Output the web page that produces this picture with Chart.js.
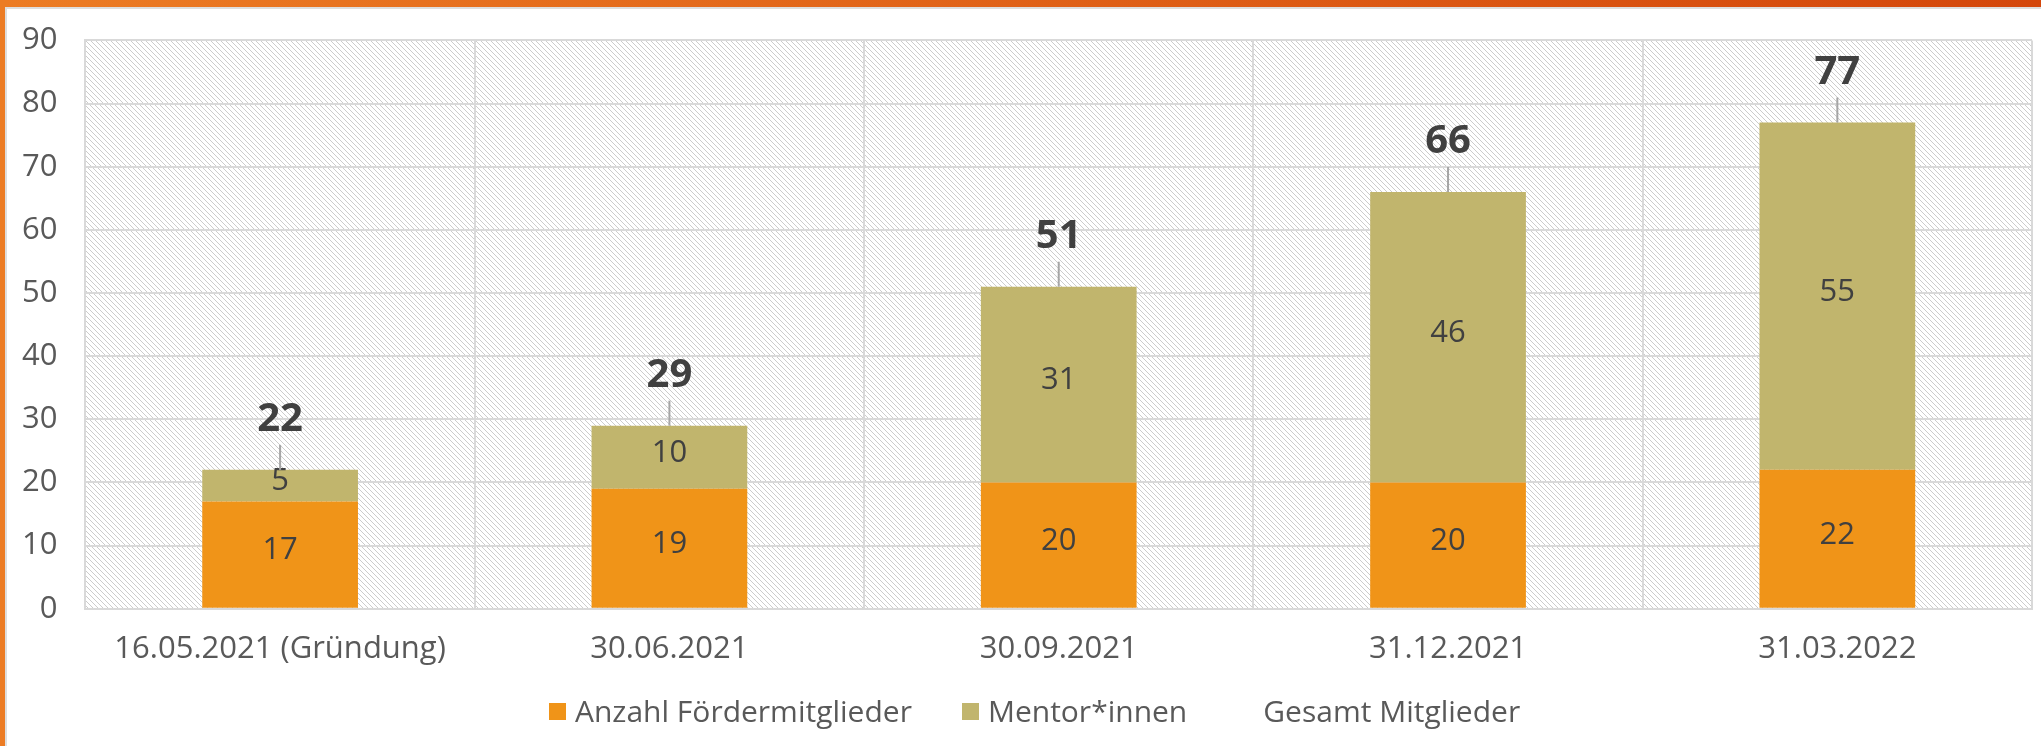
<!DOCTYPE html>
<html>
<head>
<meta charset="utf-8">
<script src="https://cdn.jsdelivr.net/npm/chart.js@4/dist/chart.umd.min.js"></script>
<style>
    html, body { margin: 0; padding: 0; background: #fff; }
    #wrap { position: relative; width: 2041px; height: 746px; overflow: hidden; }
    #membersChart { position: absolute; left: 0; top: 0; }
    .frame { position: absolute; }
    #frameTop { left: 0; top: 0; width: 2041px; height: 7px; background: linear-gradient(90deg, #ec7c24, #d4470b); }
    #frameTopLine { left: 5px; top: 7px; width: 2036px; height: 2px; background: #dedede; }
    #frameLeft { left: 0; top: 0; width: 5px; height: 746px; background: #ec7c24; }
    #frameLeftLine { left: 5px; top: 7px; width: 2px; height: 739px; background: #dedede; }
    #legend { position: absolute; left: 549px; top: 693px; display: flex; align-items: center;
              font-family: 'Open Sans', sans-serif; font-size: 30px; line-height: 36px; color: #595959; }
    #legend .item { display: flex; align-items: center; margin-right: 50px; white-space: nowrap; }
    #legend .box { width: 17px; height: 17px; margin-right: 9px; }
</style>
</head>
<body>
<div id="wrap">
    <canvas id="membersChart" width="2041" height="746"></canvas>
    <div id="legend"></div>
    <div class="frame" id="frameTop"></div>
    <div class="frame" id="frameTopLine"></div>
    <div class="frame" id="frameLeft"></div>
    <div class="frame" id="frameLeftLine"></div>
</div>
<script>
const categories = ['16.05.2021 (Gründung)', '30.06.2021', '30.09.2021', '31.12.2021', '31.03.2022'];
const foerderMitglieder = [17, 19, 20, 20, 22];
const mentorInnen = [5, 10, 31, 46, 55];
const gesamtMitglieder = [22, 29, 51, 66, 77];
const yTickValues = [0, 10, 20, 30, 40, 50, 60, 70, 80, 90];

const gridColor = '#d9d9d9';
const tickColor = '#595959';

Chart.defaults.font.family = "'Open Sans', sans-serif";

// diagonal hatch for the plot area
function makeHatch(ctx) {
    const p = document.createElement('canvas');
    p.width = 5;
    p.height = 5;
    const pc = p.getContext('2d');
    pc.fillStyle = '#ffffff';
    pc.fillRect(0, 0, 5, 5);
    pc.fillStyle = '#cccccc';
    for (let i = 0; i < 5; i++) {
        pc.fillRect(i, i, 1, 1);
    }
    return ctx.createPattern(p, 'repeat');
}

const plotHatch = {
    id: 'plotHatch',
    beforeDraw(chart) {
        const {ctx, chartArea} = chart;
        ctx.save();
        ctx.fillStyle = makeHatch(ctx);
        ctx.fillRect(chartArea.left, chartArea.top, chartArea.right - chartArea.left, chartArea.bottom - chartArea.top);
        ctx.restore();
    }
};

// values inside the bars, totals above with a leader line
const valueLabels = {
    id: 'valueLabels',
    afterDatasetsDraw(chart) {
        const ctx = chart.ctx;
        ctx.save();
        ctx.textAlign = 'center';
        ctx.textBaseline = 'middle';
        chart.data.datasets.forEach((ds, i) => {
            const meta = chart.getDatasetMeta(i);
            if (meta.type === 'bar') {
                ctx.font = "31px 'Open Sans'";
                ctx.fillStyle = '#404040';
                meta.data.forEach((bar, j) => {
                    ctx.fillText(ds.data[j], bar.x, (bar.y + bar.base) / 2 - 4);
                });
            } else {
                meta.data.forEach((pt, j) => {
                    const labelY = pt.y - 50;
                    ctx.strokeStyle = '#a6a6a6';
                    ctx.lineWidth = 2;
                    ctx.beginPath();
                    ctx.moveTo(pt.x, pt.y);
                    ctx.lineTo(pt.x, labelY + 25);
                    ctx.stroke();
                    ctx.font = "bold 40px 'Open Sans'";
                    ctx.fillStyle = '#404040';
                    ctx.fillText(ds.data[j], pt.x, labelY);
                });
            }
        });
        ctx.restore();
    }
};

const ctx = document.getElementById('membersChart').getContext('2d');

const membersChart = new Chart(ctx, {
    data: {
        labels: categories,
        datasets: [
            {
                type: 'bar',
                label: 'Anzahl Fördermitglieder',
                data: foerderMitglieder,
                backgroundColor: '#f09418',
                stack: 'members',
                barPercentage: 0.4,
                categoryPercentage: 1
            },
            {
                type: 'bar',
                label: 'Mentor*innen',
                data: mentorInnen,
                backgroundColor: '#c1b56d',
                stack: 'members',
                barPercentage: 0.4,
                categoryPercentage: 1
            },
            {
                type: 'line',
                label: 'Gesamt Mitglieder',
                data: gesamtMitglieder,
                showLine: false,
                pointRadius: 0,
                backgroundColor: 'rgba(0,0,0,0)',
                borderColor: 'rgba(0,0,0,0)',
                stack: 'gesamt'
            }
        ]
    },
    options: {
        responsive: false,
        animation: false,
        layout: {
            padding: {left: -6, right: 9, top: 28, bottom: 56}
        },
        plugins: {
            legend: {display: false},
            tooltip: {enabled: false}
        },
        scales: {
            x: {
                stacked: true,
                grid: {color: gridColor, lineWidth: 2, offset: true, drawTicks: false},
                border: {color: gridColor, width: 2},
                ticks: {color: tickColor, font: {size: 31}, padding: 22}
            },
            y: {
                stacked: true,
                min: 0,
                max: 90,
                afterBuildTicks: (scale) => {
                    scale.ticks = yTickValues.map(v => ({value: v}));
                },
                grid: {color: gridColor, lineWidth: 2, drawTicks: false},
                border: {color: gridColor, width: 2},
                ticks: {color: tickColor, font: {size: 31, lineHeight: 0.8}, padding: 28}
            }
        }
    },
    plugins: [plotHatch, valueLabels]
});

// legend as html, built from the datasets
const legendEl = document.getElementById('legend');
membersChart.data.datasets.forEach((ds) => {
    const item = document.createElement('div');
    item.className = 'item';
    const box = document.createElement('span');
    box.className = 'box';
    box.style.background = ds.type === 'bar' ? ds.backgroundColor : 'transparent';
    const txt = document.createElement('span');
    txt.textContent = ds.label;
    item.appendChild(box);
    item.appendChild(txt);
    legendEl.appendChild(item);
});
</script>
</body>
</html>
